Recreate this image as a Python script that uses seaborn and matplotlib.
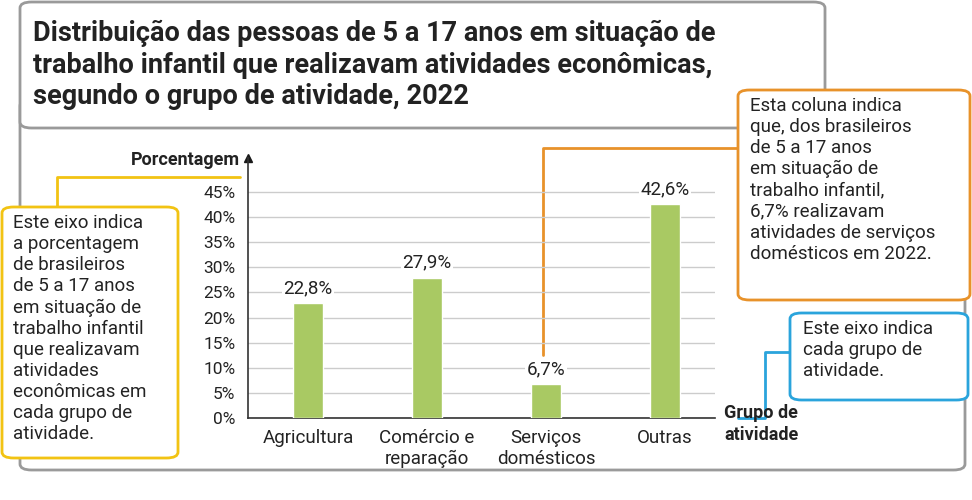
import matplotlib
matplotlib.use("Agg")
import matplotlib.pyplot as plt
import seaborn as sns
from matplotlib.patches import FancyBboxPatch
from matplotlib.lines import Line2D

sns.set_theme(style="white")
plt.rcParams["font.family"] = "Roboto"

categorias = ["Agricultura", "Comércio e\nreparação", "Serviços\ndomésticos", "Outras"]
valores = [22.8, 27.9, 6.7, 42.6]
rotulos = ["22,8%", "27,9%", "6,7%", "42,6%"]
yticks = [0, 5, 10, 15, 20, 25, 30, 35, 40, 45]

W, H = 972, 500
fig = plt.figure(figsize=(W / 100, H / 100), dpi=100)


def fx(x):
    return x / W


def fy(y):
    return 1 - y / H


def box(x0, y0, x1, y1, color, lw=2, z=5, fc="white"):
    p = FancyBboxPatch((fx(x0), fy(y1)), fx(x1 - x0), (y1 - y0) / H,
                       boxstyle="round,pad=0,rounding_size=0.012",
                       transform=fig.transFigure, fc=fc, ec=color, lw=lw,
                       zorder=z)
    fig.add_artist(p)


def line(xs, ys, color):
    fig.add_artist(Line2D([fx(x) for x in xs], [fy(y) for y in ys],
                          transform=fig.transFigure, color=color, lw=2, zorder=4))


GRAY = "#9a9a9a"
YEL = "#f2c313"
ORA = "#e8922a"
BLU = "#2aa4dc"
BAR = "#a9c963"
TXT = "#222222"

# outer frame and title box
box(20, 100, 965, 470, GRAY, z=1, fc="none")
box(20, 2, 825, 128, GRAY)
fig.text(fx(33), fy(65), "Distribuição das pessoas de 5 a 17 anos em situação de\n"
         "trabalho infantil que realizavam atividades econômicas,\n"
         "segundo o grupo de atividade, 2022",
         fontsize=19.5, fontweight="bold", color=TXT, va="center",
         linespacing=1.2, zorder=6)

# chart
x0, x1, ybot, y45, ytop = 248, 715, 418, 192, 158
ax = fig.add_axes([fx(x0), fy(ybot), fx(x1 - x0), (ybot - ytop) / H])
ax.set_zorder(6)
ax.patch.set_alpha(0)
pos = list(range(len(categorias)))
sns.barplot(x=pos, y=valores, color=BAR, width=0.25, ax=ax, saturation=1, zorder=3)
ymax = 45 * (ybot - ytop) / (ybot - y45)
ax.set_ylim(0, ymax)
ax.set_xlim(-(308 - x0) / 119, 3 + (x1 - 665) / 119)
ax.set_yticks(yticks)
ax.set_yticklabels([f"{t}%" for t in yticks], fontsize=12.5, color=TXT)
ax.set_xticks(pos)
ax.set_xticklabels(categorias, fontsize=13.5, color=TXT)
ax.tick_params(axis="y", length=6, width=1, color="#333333", pad=3)
ax.tick_params(axis="x", length=0, pad=8)
ax.yaxis.grid(True, color="#cccccc", lw=1)
ax.set_axisbelow(True)
for s in ["top", "right"]:
    ax.spines[s].set_visible(False)
for s in ["left", "bottom"]:
    ax.spines[s].set_color("#333333")
    ax.spines[s].set_linewidth(1.2)
ax.plot(0, 1, "^k", transform=ax.transAxes, clip_on=False, markersize=6)
for p, v, r in zip(pos, valores, rotulos):
    ax.text(p, v + 1.2, r, ha="center", va="bottom", fontsize=13.5, zorder=4,
            color=TXT, bbox=dict(fc="white", ec="none", pad=1))
ax.set_xlabel("")
fig.text(fx(240), fy(160), "Porcentagem", ha="right", va="center", fontsize=13,
         fontweight="bold", zorder=6, color=TXT)
fig.text(fx(724), fy(424), "Grupo de\natividade", ha="left", va="center",
         fontsize=13, fontweight="bold", linespacing=1.3, zorder=6, color=TXT)

body = dict(va="top", fontsize=13.5, linespacing=1.22, zorder=6, color=TXT)

# yellow callout
line([57, 57, 240], [207, 177, 177], YEL)
box(2, 207, 178, 458, YEL)
fig.text(fx(13), fy(214), "Este eixo indica\na porcentagem\nde brasileiros\nde 5 a 17 anos\n"
         "em situação de\ntrabalho infantil\nque realizavam\natividades\n"
         "econômicas em\ncada grupo de\natividade.", **body)

# orange callout
line([738, 543, 543], [148, 148, 355], ORA)
box(738, 90, 970, 300, ORA)
fig.text(fx(750), fy(97), "Esta coluna indica\nque, dos brasileiros\nde 5 a 17 anos\n"
         "em situação de\ntrabalho infantil,\n6,7% realizavam\n"
         "atividades de serviços\ndomésticos em 2022.", **body)

# blue callout
line([790, 765, 765, 738], [352, 352, 418, 418], BLU)
box(790, 313, 968, 400, BLU)
fig.text(fx(803), fy(320), "Este eixo indica\ncada grupo de\natividade.", **body)

fig.savefig("out.png", dpi=100)
